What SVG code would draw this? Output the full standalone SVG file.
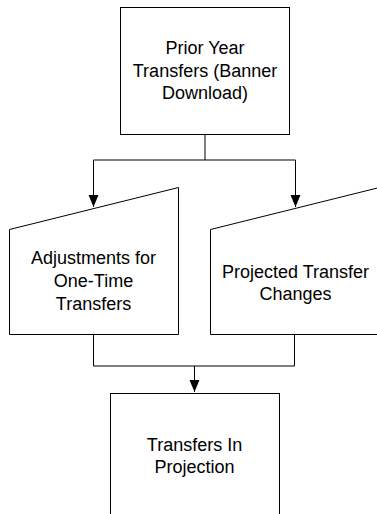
<svg xmlns="http://www.w3.org/2000/svg" width="377" height="514" viewBox="0 0 377 514">
<defs>
<style>
.node{fill:#fff;stroke:#000;stroke-width:1}
.conn{fill:none;stroke:#000;stroke-width:1}
text{font-family:"Liberation Sans",Arial,sans-serif;font-size:18px;fill:#000;text-anchor:middle}
</style>
</defs>
<rect width="377" height="514" fill="#fff"/>
<g id="connectors">
<path class="conn" d="M205,134 V160 M93.5,160 H295.5"/>
<path class="conn" d="M93.5,160 V207"/>
<path class="conn" d="M295.5,160 V207"/>
<path d="M88.5,195 H98.5 L93.5,207 Z" fill="#000"/>
<path d="M290.5,195 H300.5 L295.5,207 Z" fill="#000"/>
<path class="conn" d="M93.5,334 V366 H294.5 M294.5,334 V366 M194.5,366 V392"/>
<path d="M189.5,380 H199.5 L194.5,392 Z" fill="#000"/>
</g>
<g id="prior">
<rect class="node" x="120.5" y="7.5" width="169" height="127"/>
<text x="205" y="54">Prior Year</text>
<text x="205" y="77">Transfers (Banner</text>
<text x="205" y="99">Download)</text>
</g>
<g id="adjust">
<path class="node" d="M9.5,229.5 L178.5,187.5 V334.5 H9.5 Z"/>
<text x="93.5" y="264">Adjustments for</text>
<text x="93.5" y="287">One-Time</text>
<text x="93.5" y="310">Transfers</text>
</g>
<g id="projected">
<path class="node" d="M210.5,229.5 L379.5,187.5 V334.5 H210.5 Z"/>
<text x="295.5" y="278">Projected Transfer</text>
<text x="295.5" y="300">Changes</text>
</g>
<g id="projection">
<rect class="node" x="110.5" y="393.5" width="169" height="130"/>
<text x="194.5" y="451">Transfers In</text>
<text x="194.5" y="473">Projection</text>
</g>
</svg>
